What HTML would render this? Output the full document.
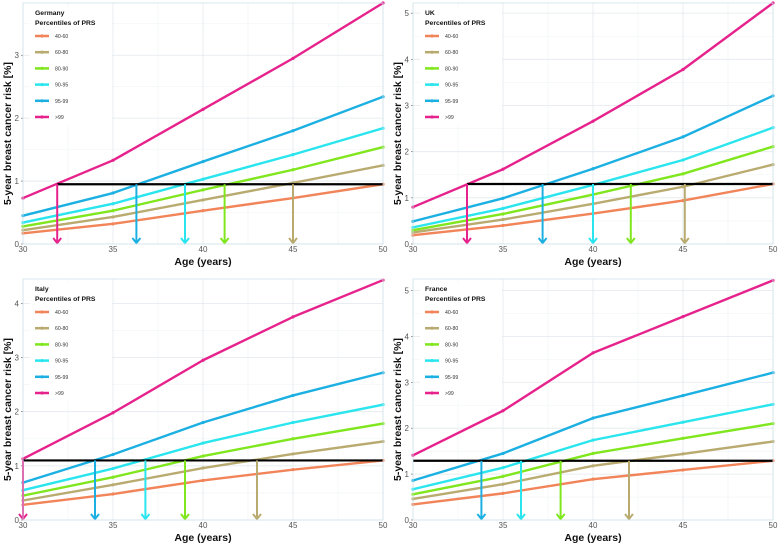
<!DOCTYPE html>
<html><head><meta charset="utf-8"><style>
body{margin:0;background:#fff;width:780px;height:547px;overflow:hidden;font-family:"Liberation Sans",sans-serif}
svg{display:block}
</style></head><body>
<svg id="c" width="780" height="547"></svg>
<script>
const ages=[30,35,40,45,50];
const groups=["40-60","60-80","80-90","90-95","95-99",">99"];
const colors=["#f2845a","#b9ab70","#80e61e","#2ae5ee","#1cb0e2","#e6228c"];
const germany=[[0.17,0.32,0.53,0.73,0.95],[0.22,0.43,0.70,0.97,1.25],[0.28,0.53,0.86,1.18,1.54],[0.34,0.64,1.03,1.42,1.84],[0.45,0.81,1.31,1.80,2.34],[0.73,1.33,2.14,2.95,3.83]];
const uk=[[0.19,0.40,0.66,0.94,1.30],[0.25,0.53,0.87,1.24,1.72],[0.30,0.65,1.07,1.52,2.11],[0.36,0.77,1.28,1.82,2.52],[0.49,0.99,1.63,2.32,3.21],[0.80,1.62,2.66,3.78,5.22]];
const italy=[[0.28,0.48,0.73,0.93,1.10],[0.36,0.65,0.96,1.22,1.45],[0.45,0.79,1.18,1.50,1.78],[0.55,0.95,1.42,1.80,2.13],[0.69,1.21,1.80,2.30,2.72],[1.13,1.98,2.95,3.75,4.43]];
const france=[[0.34,0.58,0.89,1.09,1.29],[0.46,0.78,1.18,1.44,1.71],[0.56,0.95,1.45,1.78,2.10],[0.67,1.14,1.74,2.13,2.52],[0.86,1.45,2.22,2.71,3.21],[1.41,2.38,3.64,4.43,5.22]];
const thresholds=[0.95,1.30,1.10,1.29];
const arrowAges=[[31.9,36.3,39.0,41.2,45.0],[33.0,37.2,40.0,42.1,45.1],[30.0,34.0,36.8,39.0,43.0],[null,33.8,36.0,38.2,42.0]];
const countries=["Germany","UK","Italy","France"];
const yTicks=[[0,1,2,3],[0,1,2,3,4,5],[0,1,2,3,4],[0,1,2,3,4,5]];
const yMax=[3.83,5.22,4.45,5.25];
const xTicks=[30,35,40,45,50];
const panelData=[germany,uk,italy,france];
const boxes=[{x:23,y:3,w:360,h:241},{x:413,y:3,w:360,h:241},{x:23,y:279,w:360,h:241},{x:413,y:279,w:360,h:241}];
const NS="http://www.w3.org/2000/svg";
const svg=document.getElementById('c');
function mk(t,a,p){const e=document.createElementNS(NS,t);for(const k in a)e.setAttribute(k,a[k]);(p||svg).appendChild(e);return e;}
boxes.forEach((b,pi)=>{
  const g=mk('g',{});
  
  
  const X=v=>b.x+(v-30)/20*b.w, Y=v=>b.y+b.h-v/yMax[pi]*b.h;
  mk('rect',{x:b.x,y:b.y,width:b.w,height:b.h,fill:'#fff'},g);
  for(let v=32.5;v<50;v+=5)mk('line',{x1:X(v),x2:X(v),y1:b.y,y2:b.y+b.h,stroke:'#f0f3f6','stroke-width':0.6},g);
  for(let i=0;i<yTicks[pi].length;i++){const v=yTicks[pi][i]+0.5;if(v<yMax[pi])mk('line',{x1:b.x,x2:b.x+b.w,y1:Y(v),y2:Y(v),stroke:'#f0f3f6','stroke-width':0.6},g);}
  xTicks.forEach(v=>{mk('line',{x1:X(v),x2:X(v),y1:b.y,y2:b.y+b.h,stroke:'#e3e9ee','stroke-width':0.8},g);
    const t=mk('text',{x:X(v),y:b.y+b.h+8,'font-size':8,fill:'#555','text-anchor':'middle'},g);t.textContent=v;
    });
  yTicks[pi].forEach(v=>{mk('line',{x1:b.x,x2:b.x+b.w,y1:Y(v),y2:Y(v),stroke:'#e3e9ee','stroke-width':0.8},g);
    mk('line',{x1:b.x-2,x2:b.x,y1:Y(v),y2:Y(v),stroke:'#555','stroke-width':0.6},g);
    const t=mk('text',{x:b.x-4,y:Y(v)+3,'font-size':8,fill:'#555','text-anchor':'end'},g);t.textContent=v;
    });
  mk('rect',{x:b.x+7,y:b.y+4,width:82,height:118,fill:'#fff'},g);
  const lt=mk('text',{x:b.x+12,y:b.y+12,'font-size':6.8,'font-weight':'bold',fill:'#111'},g);lt.textContent=countries[pi];
  
  const lt2=mk('text',{x:b.x+12,y:b.y+22,'font-size':6.8,'font-weight':'bold',fill:'#111'},g);lt2.textContent='Percentiles of PRS';
  
  groups.forEach((gn,i)=>{const ly=b.y+33+i*16.2;
    const le=mk('g',{},g);
    
    mk('line',{x1:b.x+12,x2:b.x+26,y1:ly,y2:ly,stroke:colors[i],'stroke-width':2.5},le);
    mk('circle',{cx:b.x+19,cy:ly,r:1.6,fill:colors[i]},le);
    const t=mk('text',{x:b.x+32,y:ly+2,'font-size':5.2,fill:'#333'},le);t.textContent=gn;});
  panelData[pi].forEach((s,i)=>{
    const p=mk('polyline',{points:s.map((v,j)=>X(ages[j])+','+Y(v)).join(' '),fill:'none',stroke:colors[i],'stroke-width':2.4,'stroke-linejoin':'round'},g);
    
    s.forEach((v,j)=>{const c=mk('circle',{cx:X(ages[j]),cy:Y(v),r:1.6,fill:colors[i]},g);
      });
  });
  const th=thresholds[pi];const a0=arrowAges[pi][0];
  const hl=mk('line',{x1:X(a0==null?30:a0),x2:X(50),y1:Y(th),y2:Y(th),stroke:'#000','stroke-width':2.2},g);
  
  const acol=[5,4,3,2,1];
  arrowAges[pi].forEach((a,k)=>{if(a==null)return;const col=colors[acol[k]];
    const ag=mk('g',{},g);
    
    const y0=Y(th),y1=Y(0)-1;
    mk('line',{x1:X(a),x2:X(a),y1:y0,y2:y1,stroke:col,'stroke-width':2},ag);
    mk('polyline',{points:(X(a)-4)+','+(y1-5)+' '+X(a)+','+y1+' '+(X(a)+4)+','+(y1-5),fill:'none',stroke:col,'stroke-width':2},ag);});
  mk('rect',{x:b.x,y:b.y,width:b.w,height:b.h,fill:'none',stroke:'#cfe3ec','stroke-width':0.8},g);
  const xt=mk('text',{x:b.x+b.w/2,y:b.y+b.h+21,'font-size':10.5,'font-weight':'bold',fill:'#111','text-anchor':'middle'},g);xt.textContent='Age (years)';
  
  const cy=b.y+b.h/2+10, tx=b.x-12;
  const yt=mk('text',{x:tx,y:cy,'font-size':10.5,'font-weight':'bold',fill:'#111','text-anchor':'middle',transform:'rotate(-90 '+tx+' '+cy+')'},g);yt.textContent='5-year breast cancer risk [%]';
  
});
</script>
</body></html>
